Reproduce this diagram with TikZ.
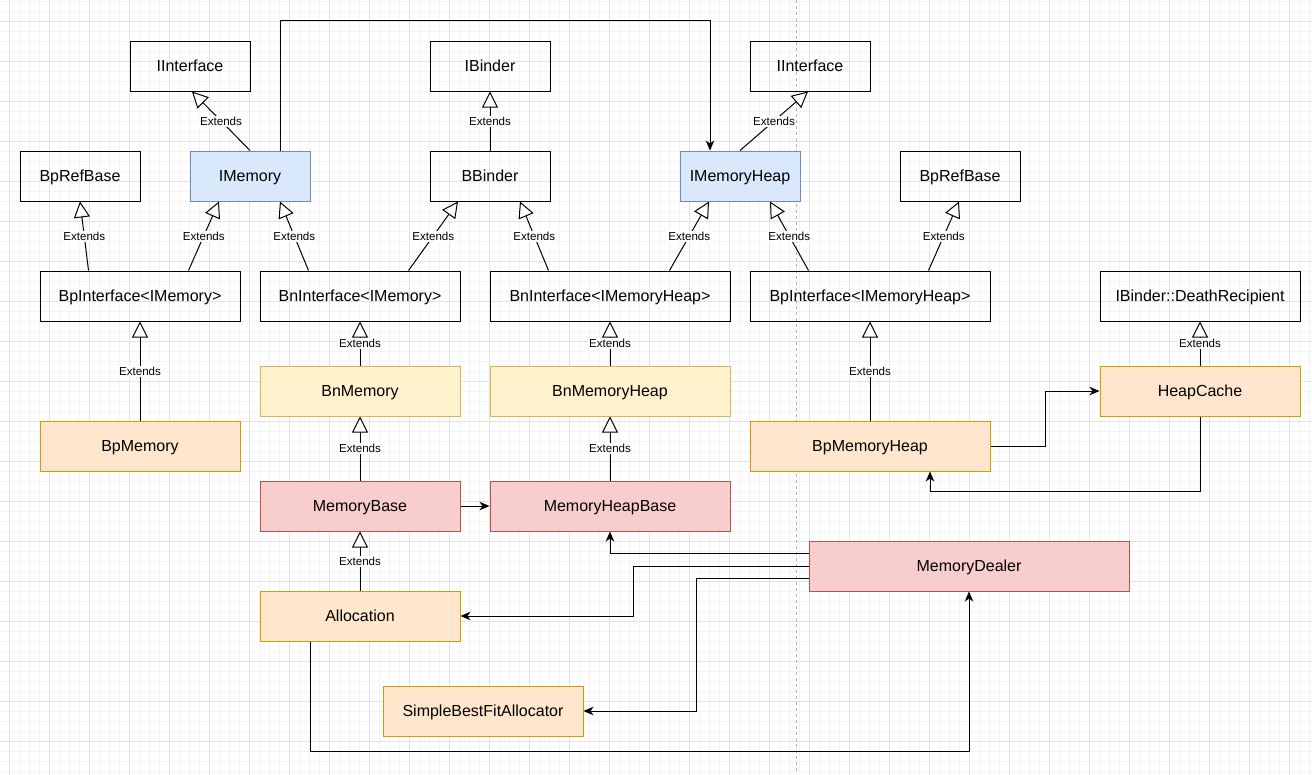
\documentclass[tikz,border=0pt]{standalone}
\usepackage{fontspec}
\setmainfont{Liberation Sans}
\usetikzlibrary{arrows.meta,calc,positioning}
\definecolor{BlueFill}{HTML}{DAE8FC}
\definecolor{BlueLine}{HTML}{6C8EBF}
\definecolor{YellowFill}{HTML}{FFF2CC}
\definecolor{YellowLine}{HTML}{D6B656}
\definecolor{OrangeFill}{HTML}{FFE6CC}
\definecolor{OrangeLine}{HTML}{D79B00}
\definecolor{RedFill}{HTML}{F8CECC}
\definecolor{RedLine}{HTML}{B85450}
\definecolor{MinorGrid}{HTML}{F4F4F4}
\definecolor{MajorGrid}{HTML}{E2E2E2}

\begin{document}
\begin{tikzpicture}[x=1pt, y=-1pt,
    box/.style={draw, line width=1pt, minimum width=200, minimum height=50, inner sep=0pt, text height=11.5pt, text depth=0pt, font=\fontsize{16}{19}\selectfont},
    small/.style={box, minimum width=120},
    wide/.style={box, minimum width=240},
    iface/.style={fill=BlueFill, draw=BlueLine},
    stub/.style={fill=YellowFill, draw=YellowLine},
    impl/.style={fill=OrangeFill, draw=OrangeLine},
    core/.style={fill=RedFill, draw=RedLine},
    ext/.style={-{Triangle[open, length=16pt, width=16pt, fill=white]}, line width=1pt},
    use/.style={-{Stealth[length=10pt, width=8.5pt, inset=3pt]}, line width=1pt},
    lbl/.style={fill=white, inner sep=1pt, text height=8.5pt, text depth=0.5pt, font=\fontsize{11.6}{13}\selectfont}]
    \useasboundingbox (0,0) rectangle (1312,774);
    \fill[white] (0,0) rectangle (1312,774);

    %% Background grid
    \begin{scope}
        \clip (0,0) rectangle (1312,774);
        \draw[MinorGrid, line width=0.8pt, shift={(9.5,1.5)}, step=10pt] (-20,-20) grid (1320,790);
        \draw[MajorGrid, line width=0.8pt, shift={(9.5,21.5)}, step=40pt] (-40,-40) grid (1320,800);
    \end{scope}
    \draw[gray!60, line width=0.8pt, dash pattern=on 3pt off 3pt] (796,0) -- (796,774);

    %% Top row
    \node at (190,66) [small](iInterfaceA){IInterface};
    \node at (490,66) [small](iBinder){IBinder};
    \node at (810,66) [small](iInterfaceB){IInterface};

    %% Interfaces
    \node at (80,176) [small](bpRefBaseA){BpRefBase};
    \node at (250,176) [small, iface](iMemory){IMemory};
    \node at (490,176) [small](bBinder){BBinder};
    \node at (740,176) [small, iface](iMemoryHeap){IMemoryHeap};
    \node at (960,176) [small](bpRefBaseB){BpRefBase};

    %% Templates
    \node at (140,296) [box](bpiMemory){BpInterface<IMemory>};
    \node at (360,296) [box](bniMemory){BnInterface<IMemory>};
    \node at (610,296) [wide](bniHeap){BnInterface<IMemoryHeap>};
    \node at (870,296) [wide](bpiHeap){BpInterface<IMemoryHeap>};
    \node at (1200,296) [box](deathRecipient){IBinder::DeathRecipient};

    %% Implementations
    \node at (360,391) [box, stub](bnMemory){BnMemory};
    \node at (610,391) [wide, stub](bnMemoryHeap){BnMemoryHeap};
    \node at (1200,391) [box, impl](heapCache){HeapCache};
    \node at (140,446) [box, impl](bpMemory){BpMemory};
    \node at (870,446) [wide, impl](bpMemoryHeap){BpMemoryHeap};
    \node at (360,506) [box, core](memoryBase){MemoryBase};
    \node at (610,506) [wide, core](memoryHeapBase){MemoryHeapBase};
    \node at (969,566) [box, core, minimum width=320](memoryDealer){MemoryDealer};
    \node at (360,616) [box, impl](allocation){Allocation};
    \node at (483,711) [box, impl](simpleBestFit){SimpleBestFitAllocator};

    %% Extends
    \draw [ext] (iMemory.north) -- ([xshift=2pt]iInterfaceA.south) node [midway, lbl] {Extends};
    \draw [ext] (bBinder.north) -- (iBinder.south) node [midway, lbl] {Extends};
    \draw [ext] (iMemoryHeap.north) -- ([xshift=-2pt]iInterfaceB.south) node [midway, lbl] {Extends};
    \draw [ext] ([xshift=49pt]bpiMemory.north west) -- (bpRefBaseA.south) node [midway, lbl] {Extends};
    \draw [ext] ([xshift=149pt]bpiMemory.north west) -- ([xshift=-31pt]iMemory.south) node [midway, lbl] {Extends};
    \draw [ext] ([xshift=49pt]bniMemory.north west) -- ([xshift=30pt]iMemory.south) node [midway, lbl] {Extends};
    \draw [ext] ([xshift=149pt]bniMemory.north west) -- ([xshift=-32pt]bBinder.south) node [midway, lbl] {Extends};
    \draw [ext] ([xshift=59pt]bniHeap.north west) -- ([xshift=30pt]bBinder.south) node [midway, lbl] {Extends};
    \draw [ext] ([xshift=180pt]bniHeap.north west) -- ([xshift=-31pt]iMemoryHeap.south) node [midway, lbl] {Extends};
    \draw [ext] ([xshift=59pt]bpiHeap.north west) -- ([xshift=30pt]iMemoryHeap.south) node [midway, lbl] {Extends};
    \draw [ext] ([xshift=179pt]bpiHeap.north west) -- ([xshift=-1pt]bpRefBaseB.south) node [midway, lbl] {Extends};
    \draw [ext] (bpMemory.north) -- (bpiMemory.south) node [midway, lbl] {Extends};
    \draw [ext] (bnMemory.north) -- (bniMemory.south) node [midway, lbl] {Extends};
    \draw [ext] (bnMemoryHeap.north) -- (bniHeap.south) node [midway, lbl] {Extends};
    \draw [ext] (bpMemoryHeap.north) -- (bpiHeap.south) node [midway, lbl] {Extends};
    \draw [ext] (heapCache.north) -- (deathRecipient.south) node [midway, lbl] {Extends};
    \draw [ext] (memoryBase.north) -- (bnMemory.south) node [midway, lbl] {Extends};
    \draw [ext] (memoryHeapBase.north) -- (bnMemoryHeap.south) node [midway, lbl] {Extends};
    \draw [ext] (allocation.north) -- (memoryBase.south) node [midway, lbl] {Extends};

    %% Arrows
    \draw [use] ([xshift=30pt]iMemory.north) -- ++(0,-130) -| ([xshift=-30pt]iMemoryHeap.north);
    \draw [use] (memoryBase.east) -- (memoryHeapBase.west);
    \draw [use] (bpMemoryHeap.east) -- ++(55,0) |- (heapCache.west);
    \draw [use] (heapCache.south) -- ++(0,75) -| ([xshift=60pt]bpMemoryHeap.south);
    \draw [use] ([yshift=13pt]memoryDealer.west) -| (memoryHeapBase.south);
    \draw [use] (memoryDealer.west) -- ++(-175,0) |- (allocation.east);
    \draw [use] ([yshift=-12pt]memoryDealer.west) -- ++(-112,0) |- (simpleBestFit.east);
    \draw [use] ([xshift=-50pt]allocation.south) -- ++(0,110) -| (memoryDealer.south);
\end{tikzpicture}
\end{document}
